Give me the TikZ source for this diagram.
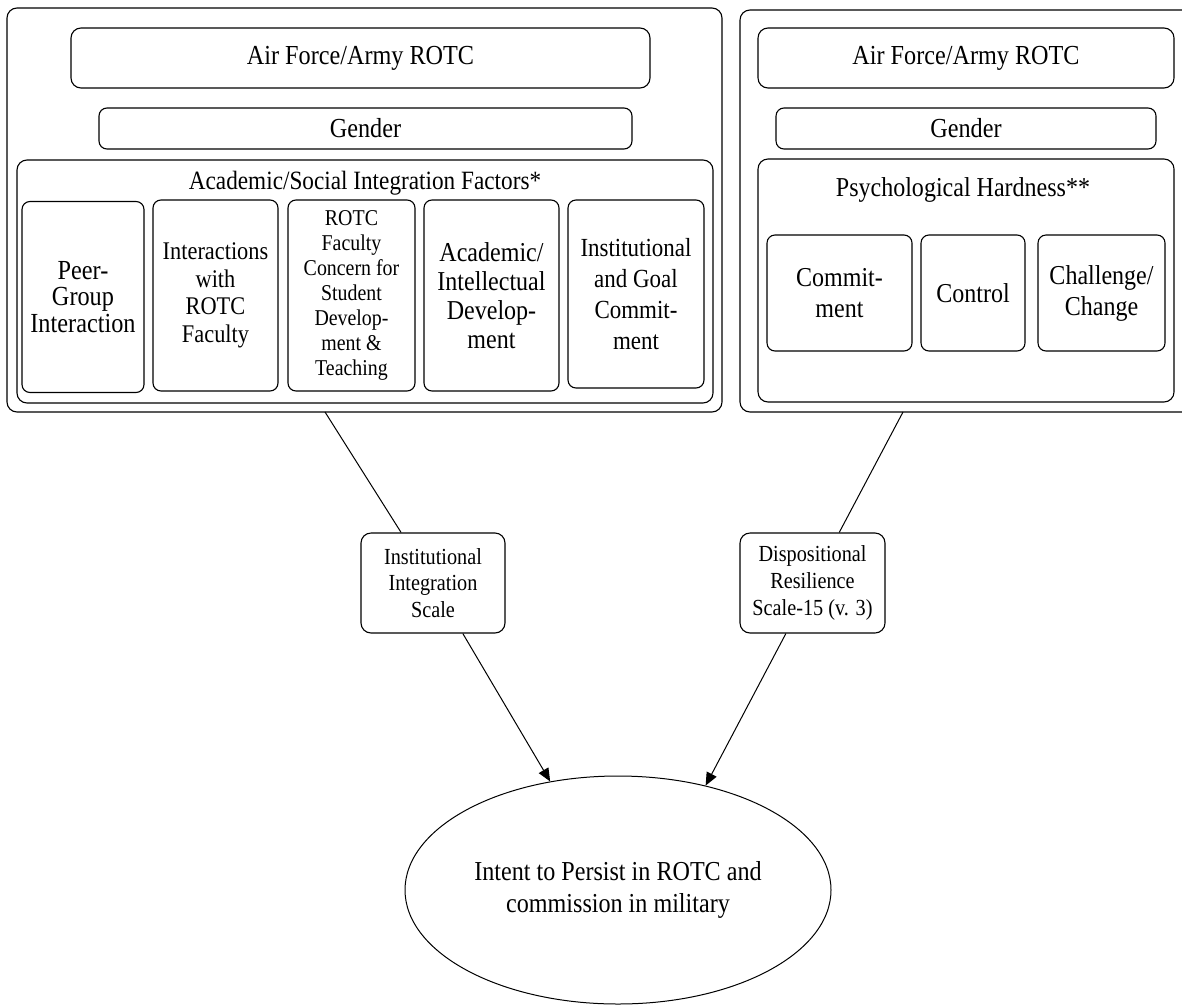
\documentclass[tikz,border=0pt]{standalone}
\usepackage{fontspec}
\setmainfont{Liberation Serif}[FakeStretch=0.88]
\usetikzlibrary{arrows.meta,shapes.geometric}
\newcommand\fsz[2]{\fontsize{#1pt}{#2pt}\selectfont}
\begin{document}
\begin{tikzpicture}[x=1pt,y=-1pt,
  box/.style={draw, rounded corners=8pt, line width=1.1pt, inner sep=0pt, align=center},
  conn/.style={line width=1pt},
  arr/.style={line width=1pt, -{Triangle[length=13pt,width=11pt]}}]
\useasboundingbox (0,0) rectangle (1182,1004);
\clip (0,0) rectangle (1182,1004);
\fill[white] (0,0) rectangle (1182,1004);

% left group
\node[box, rounded corners=10pt, minimum width=715pt, minimum height=404pt] (lout) at (364.5,210) {};
\node[box, rounded corners=10pt, minimum width=579pt, minimum height=60pt, font=\fsz{27.5}{30}] (laf) at (360.5,58) {Air Force/Army ROTC};
\node[box, minimum width=533pt, minimum height=41pt, font=\fsz{27.5}{30}] (lgen) at (365.5,128.5) {Gender};
\node[box, rounded corners=10pt, minimum width=696pt, minimum height=243pt] (lacad) at (365,281.5) {};
\node[font=\fsz{26.4}{29}, inner sep=0pt] (ltitle) at (365,183) {Academic/Social Integration Factors*};
\node[box, minimum width=122pt, minimum height=191pt, font=\fsz{27.6}{26.7}] (peer) at (83,297) {Peer-\\Group\\Interaction};
\node[box, minimum width=125pt, minimum height=191pt, font=\fsz{25.4}{27.5}] (inter) at (215.5,295.5) {Interactions\\with\\ROTC\\Faculty};
\node[box, minimum width=127pt, minimum height=191pt, font=\fsz{22.6}{25}] (rotcf) at (351.5,295.5) {ROTC\\Faculty\\Concern for\\Student\\Develop-\\ment \&\\Teaching};
\node[box, minimum width=135pt, minimum height=191pt, font=\fsz{27.3}{29}] (acint) at (491.5,295.5) {Academic/\\Intellectual\\Develop-\\ment};
\node[box, minimum width=136pt, minimum height=188pt, font=\fsz{26.1}{31}] (instg) at (636,294) {Institutional\\and Goal\\Commit-\\ment};

% right group
\node[box, rounded corners=10pt, minimum width=454pt, minimum height=402pt] (rout) at (967,211) {};
\node[box, rounded corners=10pt, minimum width=416pt, minimum height=60pt, font=\fsz{27.5}{30}] (raf) at (966,58) {Air Force/Army ROTC};
\node[box, minimum width=380pt, minimum height=41pt, font=\fsz{27.5}{30}] (rgen) at (966,128.5) {Gender};
\node[box, rounded corners=10pt, minimum width=416pt, minimum height=243pt] (psych) at (966,280.5) {};
\node[font=\fsz{27.3}{30}, inner sep=0pt] (ptitle) at (963,190) {Psychological Hardness**};
\node[box, minimum width=145pt, minimum height=116pt, font=\fsz{27.3}{31}] (comm) at (839.5,293) {Commit-\\ment};
\node[box, minimum width=104pt, minimum height=116pt, font=\fsz{27.3}{31}] (ctrl) at (973,293) {Control};
\node[box, minimum width=127pt, minimum height=116pt, font=\fsz{27.3}{31}] (chal) at (1101.5,293) {Challenge/\\Change};

% middle scales
\node[box, rounded corners=10pt, minimum width=144pt, minimum height=100pt, font=\fsz{23}{26.7}] (iis) at (433,583) {Institutional\\Integration\\Scale};
\node[box, rounded corners=10pt, minimum width=145pt, minimum height=100pt, font=\fsz{23}{26.7}] (drs) at (812.5,583) {Dispositional\\Resilience\\Scale-15 (v. 3)};

% outcome
\node[draw, ellipse, line width=1pt, inner sep=0pt, minimum width=426pt, minimum height=228pt, align=center, font=\fsz{27.4}{32}] (ell) at (618,890) {Intent to Persist in ROTC and\\commission in military};

% connectors
\coordinate (ls) at (325,412);
\coordinate (rs) at (903,412);
\draw[conn] (ls) -- (iis);
\draw[conn] (rs) -- (drs);
\draw[arr] (iis) -- (ell.122.8);
\draw[arr] (drs) -- (ell.50.2);
\end{tikzpicture}
\end{document}
